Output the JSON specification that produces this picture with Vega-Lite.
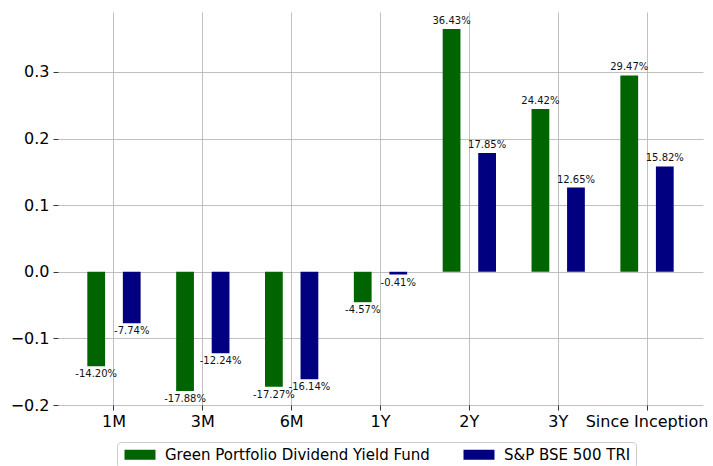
{
  "$schema": "https://vega.github.io/schema/vega-lite/v6.json",
  "autosize": "none",
  "width": 645,
  "height": 393,
  "padding": {"left": 58, "top": 12, "right": 10, "bottom": 61},
  "config": {
    "font": "DejaVu Sans",
    "view": {"stroke": null},
    "axis": {
      "zindex": 1,
      "domain": false,
      "grid": true,
      "gridColor": "#b0b0b0",
      "gridWidth": 0.8,
      "tickColor": "#000000",
      "tickWidth": 0.8,
      "tickSize": 5,
      "labelColor": "#000000",
      "labelFontSize": 16,
      "title": null
    }
  },
  "data": {
    "values": [
      {"period": "1M", "series": "Green Portfolio Dividend Yield Fund", "value": -0.1420, "label": "-14.20%"},
      {"period": "1M", "series": "S&P BSE 500 TRI", "value": -0.0774, "label": "-7.74%"},
      {"period": "3M", "series": "Green Portfolio Dividend Yield Fund", "value": -0.1788, "label": "-17.88%"},
      {"period": "3M", "series": "S&P BSE 500 TRI", "value": -0.1224, "label": "-12.24%"},
      {"period": "6M", "series": "Green Portfolio Dividend Yield Fund", "value": -0.1727, "label": "-17.27%"},
      {"period": "6M", "series": "S&P BSE 500 TRI", "value": -0.1614, "label": "-16.14%"},
      {"period": "1Y", "series": "Green Portfolio Dividend Yield Fund", "value": -0.0457, "label": "-4.57%"},
      {"period": "1Y", "series": "S&P BSE 500 TRI", "value": -0.0041, "label": "-0.41%"},
      {"period": "2Y", "series": "Green Portfolio Dividend Yield Fund", "value": 0.3643, "label": "36.43%"},
      {"period": "2Y", "series": "S&P BSE 500 TRI", "value": 0.1785, "label": "17.85%"},
      {"period": "3Y", "series": "Green Portfolio Dividend Yield Fund", "value": 0.2442, "label": "24.42%"},
      {"period": "3Y", "series": "S&P BSE 500 TRI", "value": 0.1265, "label": "12.65%"},
      {"period": "Since Inception", "series": "Green Portfolio Dividend Yield Fund", "value": 0.2947, "label": "29.47%"},
      {"period": "Since Inception", "series": "S&P BSE 500 TRI", "value": 0.1582, "label": "15.82%"}
    ]
  },
  "encoding": {
    "x": {
      "field": "period",
      "type": "nominal",
      "sort": ["1M", "3M", "6M", "1Y", "2Y", "3Y", "Since Inception"],
      "scale": {"paddingInner": 0.4, "paddingOuter": 0.33},
      "axis": {"labelAngle": 0, "bandPosition": 0.5, "labelPadding": 3}
    },
    "xOffset": {
      "field": "series",
      "type": "nominal",
      "scale": {"domain": ["Green Portfolio Dividend Yield Fund", "_gap", "S&P BSE 500 TRI"], "paddingInner": 0, "paddingOuter": 0}
    },
    "y": {
      "field": "value",
      "type": "quantitative",
      "scale": {"domain": [-0.2, 0.39], "nice": false},
      "axis": {"values": [-0.2, -0.1, 0, 0.1, 0.2, 0.3], "format": ".1f", "labelPadding": 4}
    }
  },
  "layer": [
    {
      "mark": {"type": "bar"},
      "encoding": {
        "color": {
          "field": "series",
          "type": "nominal",
          "scale": {"domain": ["Green Portfolio Dividend Yield Fund", "S&P BSE 500 TRI"], "range": ["#006400", "#000080"]},
          "legend": {
            "title": null,
            "orient": "none",
            "direction": "horizontal",
            "legendX": 59,
            "legendY": 430,
            "symbolType": "M-1,-1H5.2V1H-1Z",
            "symbolSize": 100,
            "symbolStrokeWidth": 0,
            "symbolOpacity": 1,
            "labelFontSize": 15,
            "labelLimit": 500,
            "labelColor": "#000000",
            "labelOffset": 28,
            "columnPadding": 31,
            "padding": 5,
            "strokeColor": "#cccccc",
            "fillColor": "#ffffff",
            "cornerRadius": 4
          }
        }
      }
    },
    {
      "transform": [{"filter": "datum.value >= 0"}],
      "mark": {"type": "text", "baseline": "bottom", "dy": -3, "fontSize": 10, "color": "#111111"},
      "encoding": {"text": {"field": "label"}}
    },
    {
      "transform": [{"filter": "datum.value < 0"}],
      "mark": {"type": "text", "baseline": "top", "dy": 3, "fontSize": 10, "color": "#111111"},
      "encoding": {"text": {"field": "label"}}
    }
  ]
}
